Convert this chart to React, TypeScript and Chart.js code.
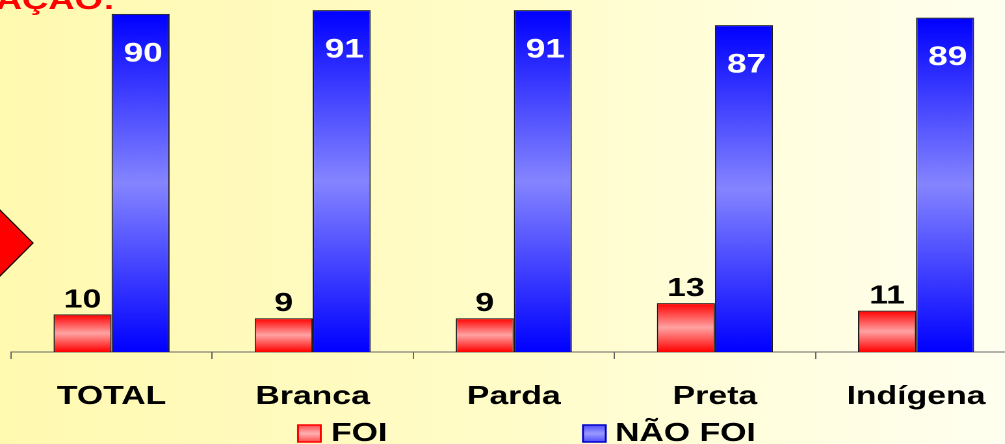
import React, { useEffect, useRef } from 'react';
import { Chart, registerables } from 'chart.js';

Chart.register(...registerables);

// ---- data ----
const categories = ['TOTAL', 'Branca', 'Parda', 'Preta', 'Indígena'];
const seriesNames = ['FOI', 'NÃO FOI'];
const foiValues = [10, 9, 9, 13, 11];
const naoFoiValues = [90, 91, 91, 87, 89];
const headerText = 'AÇÃO:';

// ---- styling ----
const STRETCH = 1.3; // the original slide chart is horizontally stretched
const FONT = '"Liberation Sans", Arial, Helvetica, sans-serif';
const RED_STOPS = ['#ff0000', '#ffa3a3', '#ff0000'];
const BLUE_STOPS = ['#0000ff', '#8585ff', '#0000ff'];

function barGradient(stops: string[]) {
  return (c: any) => {
    const chart = c.chart;
    const area = chart.chartArea;
    if (!area || c.type !== 'data' || !chart.scales.y) return stops[0];
    const y = chart.scales.y;
    const top = y.getPixelForValue(c.raw);
    const bottom = y.getPixelForValue(0);
    if (!isFinite(top) || !isFinite(bottom) || top === bottom) return stops[0];
    const g = chart.ctx.createLinearGradient(0, top, 0, bottom);
    g.addColorStop(0, stops[0]);
    g.addColorStop(0.5, stops[1]);
    g.addColorStop(1, stops[2]);
    return g;
  };
}

const overlayPlugin = {
  id: 'overlay',
  afterDatasetsDraw(chart: any) {
    const ctx = chart.ctx;
    ctx.save();
    // values above the FOI bars
    const m0 = chart.getDatasetMeta(0);
    ctx.font = `bold 26px ${FONT}`;
    ctx.textAlign = 'center';
    ctx.textBaseline = 'alphabetic';
    ctx.fillStyle = '#000000';
    m0.data.forEach((el: any, i: number) => {
      ctx.fillText(String(chart.data.datasets[0].data[i]), el.x, el.y - 7);
    });
    // values inside the NÃO FOI bars
    const m1 = chart.getDatasetMeta(1);
    ctx.font = `bold 27px ${FONT}`;
    ctx.textBaseline = 'middle';
    ctx.fillStyle = '#ffffff';
    m1.data.forEach((el: any, i: number) => {
      ctx.fillText(String(chart.data.datasets[1].data[i]), el.x + 2, el.y + 40);
    });
    ctx.restore();
  },
  afterDraw(chart: any) {
    const ctx = chart.ctx;
    ctx.save();
    // header text (cut at top of slide)
    ctx.font = `bold 28px ${FONT}`;
    ctx.fillStyle = '#ff0000';
    ctx.textAlign = 'right';
    ctx.textBaseline = 'alphabetic';
    ctx.fillText(headerText, 115 / STRETCH, 9);

    // red diamond arrow at left edge
    const cx = 0, cy = 243, hw = 33 / STRETCH, hh = 33;
    ctx.beginPath();
    ctx.moveTo(cx, cy - hh);
    ctx.lineTo(cx + hw, cy);
    ctx.lineTo(cx, cy + hh);
    ctx.lineTo(cx - hw, cy);
    ctx.closePath();
    ctx.fillStyle = '#ff0000';
    ctx.fill();
    ctx.lineWidth = 1;
    ctx.strokeStyle = '#000000';
    ctx.stroke();

    // legend
    const items = [
      { x: 298 / STRETCH, tx: 331 / STRETCH, stops: ['#ff4d4d', '#ffb0b0', '#ff4d4d'], border: '#ff0000' },
      { x: 583 / STRETCH, tx: 615 / STRETCH, stops: ['#4d4dff', '#9a9aff', '#4d4dff'], border: '#0000cc' },
    ];
    const by = 425, bh = 17, bw = 17.5;
    items.forEach((it, i) => {
      const g = ctx.createLinearGradient(0, by, 0, by + bh);
      g.addColorStop(0, it.stops[0]);
      g.addColorStop(0.5, it.stops[1]);
      g.addColorStop(1, it.stops[2]);
      ctx.fillStyle = g;
      ctx.fillRect(it.x, by, bw, bh);
      ctx.lineWidth = 1.5;
      ctx.strokeStyle = it.border;
      ctx.strokeRect(it.x, by, bw, bh);
      ctx.font = `bold 26px ${FONT}`;
      ctx.fillStyle = '#000000';
      ctx.textAlign = 'left';
      ctx.textBaseline = 'alphabetic';
      ctx.fillText(chart.data.datasets[i].label, it.tx, 441);
    });
    ctx.restore();
  },
};

export default function App() {
  const canvasRef = useRef<HTMLCanvasElement | null>(null);

  useEffect(() => {
    if (!canvasRef.current) return;
    const chart = new Chart(canvasRef.current, {
      type: 'bar',
      data: {
        labels: categories,
        datasets: [
          {
            label: seriesNames[0],
            data: foiValues,
            backgroundColor: barGradient(RED_STOPS),
            borderColor: '#1a1a1a',
            borderWidth: 1,
            categoryPercentage: 0.577,
            barPercentage: 1.0,
          },
          {
            label: seriesNames[1],
            data: naoFoiValues,
            backgroundColor: barGradient(BLUE_STOPS),
            borderColor: '#1a1a1a',
            borderWidth: 1,
            categoryPercentage: 0.577,
            barPercentage: 1.0,
          },
        ],
      },
      options: {
        animation: false,
        responsive: true,
        maintainAspectRatio: false,
        devicePixelRatio: 2,
        events: [],
        layout: { padding: { left: 11 / STRETCH, right: 0, top: 0, bottom: 9.8 } },
        plugins: {
          legend: { display: false },
          tooltip: { enabled: false },
          title: { display: false },
        },
        scales: {
          x: {
            grid: {
              display: true,
              drawOnChartArea: false,
              drawTicks: true,
              tickLength: 7,
              color: '#666666',
              lineWidth: 1,
              offset: true,
            },
            border: { display: true, color: '#666666', width: 1 },
            ticks: {
              font: { family: FONT, size: 26, weight: 'bold' },
              color: '#000000',
              padding: 22,
              maxRotation: 0,
              autoSkip: false,
            },
          },
          y: { display: false, min: 0, max: 93.7 },
        },
      },
      plugins: [overlayPlugin],
    } as any);
    return () => chart.destroy();
  }, []);

  return (
    <div
      style={{
        position: 'fixed',
        left: 0,
        top: 0,
        width: 1005,
        height: 444,
        overflow: 'hidden',
        background: 'linear-gradient(to right, #fff9b0 0%, #fffcc8 50%, #fffff0 100%)',
      }}
    >
      <div
        style={{
          position: 'absolute',
          left: 0,
          top: 0,
          width: 782,
          height: 444,
          transform: `scaleX(${STRETCH})`,
          transformOrigin: '0 0',
        }}
      >
        <canvas ref={canvasRef} />
      </div>
    </div>
  );
}
